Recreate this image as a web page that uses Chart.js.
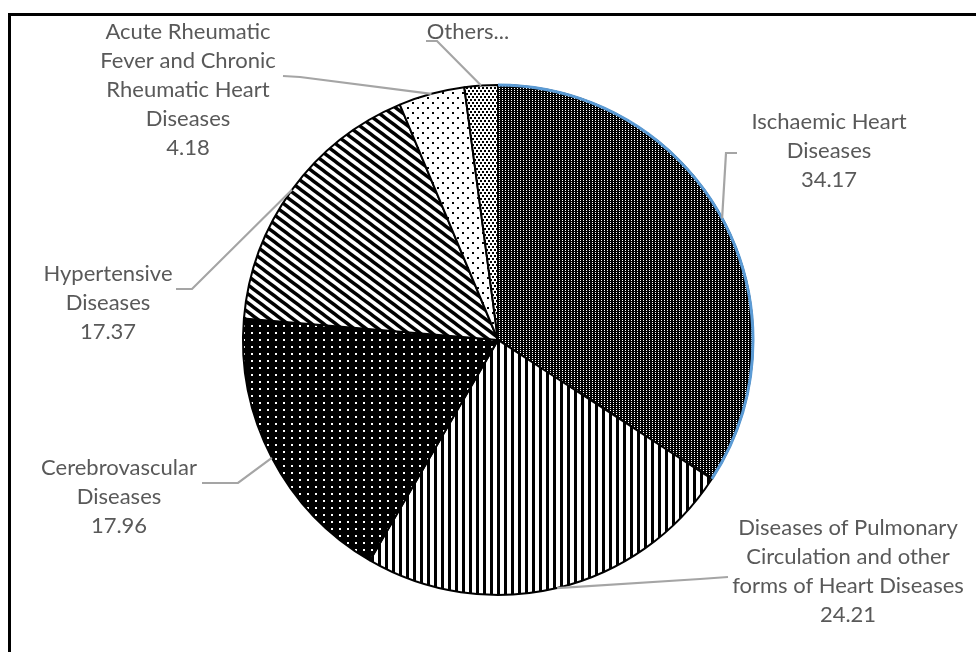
<!DOCTYPE html>
<html>
<head>
<meta charset="utf-8">
<script src="https://cdn.jsdelivr.net/npm/chart.js@4.4.0/dist/chart.umd.min.js"></script>
<style>
  html, body { margin: 0; padding: 0; background: #fff; overflow: hidden; }
  #wrap { position: relative; width: 976px; height: 652px; }
  #frame { position: absolute; left: 8px; top: 13px; right: -10px; bottom: -10px;
           border-left: 3px solid #000; border-top: 3px solid #000; pointer-events: none; }
</style>
</head>
<body>
<div id="wrap">
  <canvas id="chart" width="976" height="652"></canvas>
  <div id="frame"></div>
</div>
<script>
// data
var categories = [
  'Ischaemic Heart Diseases',
  'Diseases of Pulmonary Circulation and other forms of Heart Diseases',
  'Cerebrovascular Diseases',
  'Hypertensive Diseases',
  'Acute Rheumatic Fever and Chronic Rheumatic Heart Diseases',
  'Others...'
];
var shares = [34.17, 24.21, 17.96, 17.37, 4.18, 2.11];
var valueText = ['34.17', '24.21', '17.96', '17.37', '4.18', ''];
var labelLines = [
  ['Ischaemic Heart', 'Diseases'],
  ['Diseases of Pulmonary', 'Circulation and other', 'forms of Heart Diseases'],
  ['Cerebrovascular', 'Diseases'],
  ['Hypertensive', 'Diseases'],
  ['Acute Rheumatic', 'Fever and Chronic', 'Rheumatic Heart', 'Diseases'],
  ['Others...']
];

// layout of the data labels (centre x, first line y) and leader bends
var labelPos = [[829, 122], [848, 528], [119, 468], [108, 274], [188, 32], [468, 32]];
var leaderBends = [
  [[726, 153], [737, 153]],
  [[700, 579], [728, 577]],
  [[238, 483], [202, 483]],
  [[192, 289], [176, 289]],
  [[300, 77], [283, 76]],
  [[437, 41], [426, 41]]
];
var lineGap = 29;

var canvas = document.getElementById('chart');
var ctx = canvas.getContext('2d');

function makePattern(w, h, bg, draw) {
  var c = document.createElement('canvas');
  c.width = w;
  c.height = h;
  var g = c.getContext('2d');
  g.fillStyle = bg;
  g.fillRect(0, 0, w, h);
  g.fillStyle = '#000';
  g.strokeStyle = '#000';
  draw(g);
  return ctx.createPattern(c, 'repeat');
}

var fills = [
  // fine dotted grid, dark
  makePattern(3, 2, '#000', function (g) {
    g.fillStyle = '#fff';
    g.fillRect(1, 0, 1, 1);
  }),
  // vertical stripes
  makePattern(7, 4, '#fff', function (g) {
    g.fillRect(0, 0, 3, 4);
  }),
  // black with white dots
  makePattern(8, 7, '#000', function (g) {
    g.fillStyle = '#fff';
    g.fillRect(3, 3, 2, 2);
  }),
  // wide downward diagonal
  makePattern(12, 9, '#fff', function (g) {
    g.lineWidth = 3.4;
    for (var k = -2; k <= 2; k++) {
      g.beginPath();
      g.moveTo(k * 12 - 12, -9);
      g.lineTo(k * 12 + 24, 18);
      g.stroke();
    }
  }),
  // sparse dots
  makePattern(10, 10, '#fff', function (g) {
    g.fillRect(2, 2, 2, 2);
    g.fillRect(7, 7, 2, 2);
  }),
  // dense dots
  makePattern(4, 6, '#fff', function (g) {
    g.fillRect(0, 0, 2, 2);
    g.fillRect(2, 3, 2, 2);
  })
];

var labelPlugin = {
  id: 'labelPlugin',
  afterDatasetsDraw: function (chart) {
    var c = chart.ctx;
    var arcs = chart.getDatasetMeta(0).data;
    c.save();

    // highlighted outer edge of the first slice
    var a0 = arcs[0];
    c.beginPath();
    c.arc(a0.x, a0.y, a0.outerRadius, a0.startAngle, a0.endAngle);
    c.strokeStyle = '#5B9BD5';
    c.lineWidth = 3;
    c.stroke();

    // leader lines
    c.strokeStyle = '#A5A5A5';
    c.lineWidth = 2.2;
    c.lineJoin = 'miter';
    arcs.forEach(function (arc, i) {
      var mid = (arc.startAngle + arc.endAngle) / 2;
      c.beginPath();
      c.moveTo(arc.x + arc.outerRadius * Math.cos(mid), arc.y + arc.outerRadius * Math.sin(mid));
      leaderBends[i].forEach(function (p) { c.lineTo(p[0], p[1]); });
      c.stroke();
    });

    // label text
    c.fillStyle = '#595959';
    c.font = '22px Lato';
    c.textAlign = 'center';
    c.textBaseline = 'middle';
    arcs.forEach(function (arc, i) {
      var lines = labelLines[i].slice();
      if (valueText[i]) lines.push(valueText[i]);
      lines.forEach(function (t, j) {
        c.fillText(t, labelPos[i][0], labelPos[i][1] + j * lineGap);
      });
    });
    c.restore();
  }
};

new Chart(ctx, {
  type: 'pie',
  data: {
    labels: categories,
    datasets: [{
      data: shares,
      backgroundColor: fills,
      borderColor: '#000',
      borderWidth: 2,
      hoverBorderWidth: 2,
      hoverOffset: 0
    }]
  },
  options: {
    responsive: false,
    animation: false,
    radius: 255,
    layout: {
      padding: { left: 20, right: 0, top: 28, bottom: 0 }
    },
    plugins: {
      legend: { display: false },
      tooltip: { enabled: false }
    },
    events: []
  },
  plugins: [labelPlugin]
});
</script>
</body>
</html>
